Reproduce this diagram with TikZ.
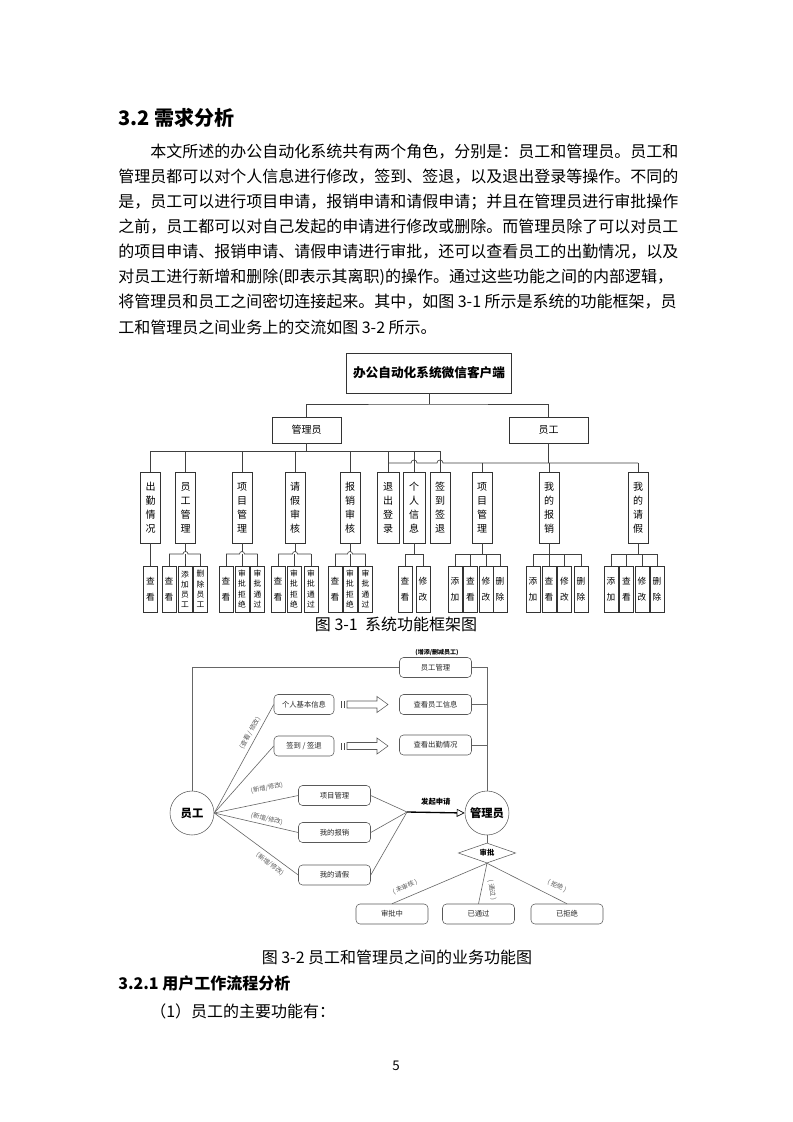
\documentclass[tikz,border=0pt]{standalone}
\usepackage{fontspec}
\setmainfont{Noto Sans CJK SC}
\usetikzlibrary{arrows.meta, positioning, calc, shapes.geometric}

\tikzset{
  conn/.style={draw=black!75, line width=0.5pt},
  para/.style={anchor=west, inner sep=0pt, font=\fontsize{12}{14}\selectfont},
  topbox/.style={draw=black!80, minimum width=124pt, minimum height=30pt, font=\fontsize{9.5}{11}\selectfont\bfseries},
  rolebox/.style={draw=black!80, minimum height=19.5pt, font=\fontsize{7.5}{9}\selectfont},
  funcbox/.style={draw=black!80, minimum width=15pt, minimum height=53pt, inner sep=0pt, align=center, font=\fontsize{7.5}{10.5}\selectfont},
  leafbox/.style={draw=black!80, minimum width=10.5pt, minimum height=34.5pt, inner sep=0pt, align=center, font=\fontsize{6.5}{12}\selectfont},
  leafboxs/.style={leafbox, font=\fontsize{5.8}{7.6}\selectfont},
  rbox/.style={draw=black!65, rounded corners=3pt, minimum width=54pt, minimum height=15pt, inner sep=0pt, text=black!85, font=\fontsize{5.5}{6}\selectfont},
  role/.style={circle, draw=black!65, minimum size=33pt, inner sep=0pt, font=\fontsize{8.5}{9}\selectfont\bfseries},
  note/.style={text=black!65, inner sep=0pt, font=\fontsize{4.8}{5}\selectfont},
  flow/.style={draw=black!60, line width=0.45pt},
}

\begin{document}
\begin{tikzpicture}[x=0.75pt, y=-0.75pt]
\fill[white] (0,0) rectangle (793,1122);
\useasboundingbox (0,0) rectangle (793,1122);

% Heading and text
\node[anchor=west, inner sep=0pt, font=\fontsize{15}{18}\selectfont\bfseries] (h32) at (118,118) {3.2 需求分析};
\node[para] (p1) at (150,152) {本文所述的办公自动化系统共有两个角色，分别是：员工和管理员。员工和};
\node[para] (p2) at (118,177) {管理员都可以对个人信息进行修改，签到、签退，以及退出登录等操作。不同的};
\node[para] (p3) at (118,202) {是，员工可以进行项目申请，报销申请和请假申请；并且在管理员进行审批操作};
\node[para] (p4) at (118,227) {之前，员工都可以对自己发起的申请进行修改或删除。而管理员除了可以对员工};
\node[para] (p5) at (118,252) {的项目申请、报销申请、请假申请进行审批，还可以查看员工的出勤情况，以及};
\node[para] (p6) at (118,277) {对员工进行新增和删除(即表示其离职)的操作。通过这些功能之间的内部逻辑，};
\node[para] (p7) at (118,302) {将管理员和员工之间密切连接起来。其中，如图 3-1 所示是系统的功能框架，员};
\node[para] (p8) at (118,327) {工和管理员之间业务上的交流如图 3-2 所示。};

% Figure 3-1: function frame
\coordinate (tbar) at (0,404);
\coordinate (abar) at (0,451);
\coordinate (ebar) at (0,463);
\coordinate (lbar) at (0,554);

\node[topbox] (sys) at (429,373) {办公自动化系统微信客户端};
\node[rolebox, minimum width=52pt] (adm) at (306.5,430) {管理员};
\node[rolebox, minimum width=59pt] (emp) at (548.5,430) {员工};
\draw[conn] (sys.south) -- (sys.south |- tbar);
\draw[conn] (adm.north) |- (sys.south |- tbar) -| (emp.north);

\node[funcbox] (a1) at (150.5,507.5) {出\\勤\\情\\况};
\node[funcbox] (a2) at (185.5,507.5) {员\\工\\管\\理};
\node[funcbox] (a3) at (242,507.5) {项\\目\\管\\理};
\node[funcbox] (a4) at (295,507.5) {请\\假\\审\\核};
\node[funcbox] (a5) at (350,507.5) {报\\销\\审\\核};
\node[funcbox, minimum width=16.5pt] (s1) at (388,507.5) {退\\出\\登\\录};
\node[funcbox, minimum width=16.5pt] (s2) at (414,507.5) {个\\人\\信\\息};
\node[funcbox] (s3) at (440,507.5) {签\\到\\签\\退};
\node[funcbox] (e1) at (482,507.5) {项\\目\\管\\理};
\node[funcbox] (e2) at (549,507.5) {我\\的\\报\\销};
\node[funcbox] (e3) at (638,507.5) {我\\的\\请\\假};

% admin branch
\draw[conn] (adm.south) -- (adm.south |- abar);
\draw[conn] (a1.north |- abar) -- (s3.north |- abar);
\foreach \n in {a1,a2,a3,a4,a5,s1,s2,s3}
  \draw[conn] (\n.north) -- (\n.north |- abar);

% employee branch, hopping over the admin lines
\draw[conn] (emp.south) -- (emp.south |- ebar);
\draw[conn] (s1.north |- ebar) -- ($(s2.north |- ebar)+(-3,0)$) arc[start angle=180, end angle=360, radius=3]
  -- ($(s3.north |- ebar)+(-3,0)$) arc[start angle=180, end angle=360, radius=3] -- (e3.north |- ebar);
\foreach \n in {e1,e2,e3}
  \draw[conn] (\n.north) -- (\n.north |- ebar);

% leaves
\node[leafbox] (a1l1) at (150.5,589) {查\\看};
\draw[conn] (a1.south) -- (a1l1.north);

\node[leafbox] (a2l1) at (169,589) {查\\看};
\node[leafboxs] (a2l2) at (185,589) {添\\加\\员\\工};
\node[leafboxs] (a2l3) at (200.5,589) {删\\除\\员\\工};

\foreach \x/\t/\s [count=\i] in {226/查\\看/leafbox, 242/审\\批\\拒\\绝/leafboxs, 257.5/审\\批\\通\\过/leafboxs}
  \node[\s] (a3l\i) at (\x,589) {\t};
\foreach \x/\t/\s [count=\i] in {278/查\\看/leafbox, 294/审\\批\\拒\\绝/leafboxs, 311/审\\批\\通\\过/leafboxs}
  \node[\s] (a4l\i) at (\x,589) {\t};
\foreach \x/\t/\s [count=\i] in {335/查\\看/leafbox, 350/审\\批\\拒\\绝/leafboxs, 365.5/审\\批\\通\\过/leafboxs}
  \node[\s] (a5l\i) at (\x,589) {\t};

\foreach \p in {a2,a3,a4,a5} {
  \draw[conn] (\p l1.north |- lbar) -- ($(\p.south |- lbar)+(-2.5,0)$) arc[start angle=180, end angle=360, radius=2.5] -- (\p l3.north |- lbar);
  \draw[conn] (\p.south) -- ($(\p.south |- lbar)+(0,-2.5)$);
  \foreach \i in {1,2,3}
    \draw[conn] (\p l\i.north) -- (\p l\i.north |- lbar);
}

\foreach \x/\t [count=\i] in {405/查\\看, 423/修\\改}
  \node[leafbox] (s2l\i) at (\x,589) {\t};
\foreach \x/\t [count=\i] in {455/添\\加, 470.5/查\\看, 486/修\\改, 500/删\\除}
  \node[leafbox] (e1l\i) at (\x,589) {\t};
\foreach \x/\t [count=\i] in {533/添\\加, 549/查\\看, 564.5/修\\改, 581/删\\除}
  \node[leafbox] (e2l\i) at (\x,589) {\t};
\foreach \x/\t [count=\i] in {611/添\\加, 626.5/查\\看, 642/修\\改, 657/删\\除}
  \node[leafbox] (e3l\i) at (\x,589) {\t};

\draw[conn] (s2.south) -- (s2.south |- lbar);
\draw[conn] (s2l1.north |- lbar) -- (s2l2.north |- lbar);
\foreach \i in {1,2}
  \draw[conn] (s2l\i.north) -- (s2l\i.north |- lbar);
\foreach \p in {e1,e2,e3} {
  \draw[conn] (\p.south) -- (\p.south |- lbar);
  \draw[conn] (\p l1.north |- lbar) -- (\p l4.north |- lbar);
  \foreach \i in {1,...,4}
    \draw[conn] (\p l\i.north) -- (\p l\i.north |- lbar);
}

\node[font=\fontsize{12}{14}\selectfont] (cap1) at (396,624) {图 3-1\ \ 系统功能框架图};

% Figure 3-2: business functions
\node[role] (ee) at (192,813) {员工};
\node[role] (mm) at (487,813) {管理员};

\node[rbox] (mgr) at (435.5,667.5) {员工管理};
\node[note, text=black, font=\fontsize{4.5}{5}\selectfont\bfseries] (mgrnote) at (437,652.5) {(增添/删减员工)};
\node[rbox, minimum width=45pt] (info) at (304,704.5) {个人基本信息};
\node[rbox, minimum width=45pt] (sign) at (304,746) {签到 / 签退};
\node[rbox] (viewinfo) at (435.5,704.5) {查看员工信息};
\node[rbox] (viewatt) at (435.5,745) {查看出勤情况};
\node[rbox] (proj) at (334.5,795.5) {项目管理};
\node[rbox] (reimb) at (334.5,832.5) {我的报销};
\node[rbox] (leave) at (334.5,875) {我的请假};

\draw[flow] (ee.north) |- (mgr.west);
\draw[flow] (mgr.east) -| (mm.north);
\draw[flow] (viewinfo.east) -- (viewinfo.east -| mm.north);
\draw[flow] (viewatt.east) -- (viewatt.east -| mm.north);

% hollow arrows
\foreach \y in {704.5,746} {
  \fill[black!70] (340.5,\y-3.5) rectangle (342.2,\y+3.5);
  \fill[black!70] (343.6,\y-3.5) rectangle (345.3,\y+3.5);
  \draw[black!65, line width=0.4pt] (347,\y-3.5) -- (377,\y-3.5) -- (377,\y-8) -- (388,\y)
    -- (377,\y+8) -- (377,\y+3.5) -- (347,\y+3.5) -- cycle;
}

\foreach \n in {info,sign,proj,reimb,leave}
  \draw[flow] (ee.east) -- (\n.west);
\node[note, rotate=61] (n1) at (250,733) {(查看 / 修改)};
\node[note, rotate=11] (n2) at (267,788) {(新增/修改)};
\node[note, rotate=-13] (n3) at (267,819) {(新增/修改)};
\node[note, rotate=-37] (n4) at (270,864) {(新增/修改)};

\coordinate (req) at (407,812);
\foreach \n in {proj,reimb,leave}
  \draw[flow] (\n.east) -- (req);
\draw[black, line width=1pt, -{Triangle[open, length=6pt, width=6pt, line width=0.5pt]}] (req) -- (mm.west)
  node[midway, above=1.5pt, font=\fontsize{5.5}{6}\selectfont\bfseries] (reqlbl) {发起申请};

\node[diamond, draw=black!65, aspect=2.9, minimum width=43pt, minimum height=15pt, inner sep=0pt,
  font=\fontsize{5.5}{6}\selectfont\bfseries] (chk) at (487,853) {审批};
\draw[flow] (mm.south) -- (chk.north);

\node[rbox] (st1) at (392,914) {审批中};
\node[rbox] (st2) at (478.5,914) {已通过};
\node[rbox] (st3) at (567,914) {已拒绝};
\foreach \n in {st1,st2,st3}
  \draw[flow] (chk.south) -- (\n.north);
\node[note, rotate=24] (n5) at (405,887) {( 未审核 )};
\node[note, rotate=-80] (n6) at (492,890) {( 通过 )};
\node[note, rotate=-25] (n7) at (557,886) {( 拒绝 )};

\node[font=\fontsize{12}{14}\selectfont] (cap2) at (397,957) {图 3-2 员工和管理员之间的业务功能图};

% Next section
\node[anchor=west, inner sep=0pt, font=\fontsize{12}{14}\selectfont\bfseries] (h321) at (118,983) {3.2.1 用户工作流程分析};
\node[para] (q1) at (150,1011) {（1）员工的主要功能有：};
\node[font=\fontsize{10}{12}\selectfont] (pg) at (396,1066) {5};
\end{tikzpicture}
\end{document}
